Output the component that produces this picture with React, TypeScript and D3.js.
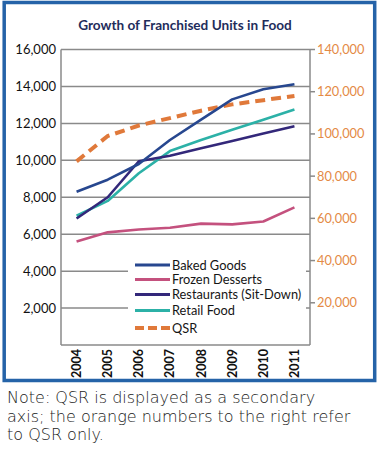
import React from "react";
import * as d3 from "d3";

const years = ["2004", "2005", "2006", "2007", "2008", "2009", "2010", "2011"];
const bakedGoods = [8300, 8950, 9800, 11100, 12200, 13300, 13850, 14120];
const frozenDesserts = [5600, 6100, 6250, 6350, 6570, 6530, 6690, 7450];
const restaurants = [6850, 8000, 9950, 10250, 10650, 11050, 11450, 11850];
const retailFood = [7000, 7800, 9300, 10500, 11100, 11650, 12200, 12750];
const qsr = [87000, 99000, 104000, 107500, 111000, 114000, 116000, 118000];
const leftTicks = [2000, 4000, 6000, 8000, 10000, 12000, 14000, 16000];
const rightTicks = [20000, 40000, 60000, 80000, 100000, 120000, 140000];

const W = 379;
const H = 452;
const L = 61;
const R = 310;
const T = 49.5;
const B = 345;

const colors = {
  baked: "#27478f",
  frozen: "#c4517e",
  rest: "#33287a",
  retail: "#2cb1a7",
  qsr: "#e0793a",
};

export default function App() {
  const x = d3.scalePoint<string>().domain(years).range([L, R]).padding(0.5);
  const yL = d3.scaleLinear().domain([0, 16000]).range([B, T]);
  const yR = d3.scaleLinear().domain([0, 140000]).range([B, T]);
  const lineL = d3
    .line<number>()
    .x((_, i) => x(years[i]) as number)
    .y((d) => yL(d));
  const lineR = d3
    .line<number>()
    .x((_, i) => x(years[i]) as number)
    .y((d) => yR(d));

  const series = [
    { data: retailFood, color: colors.retail },
    { data: frozenDesserts, color: colors.frozen },
    { data: restaurants, color: colors.rest },
    { data: bakedGoods, color: colors.baked },
  ];

  const legend = [
    { name: "Baked Goods", color: colors.baked, dash: false, y: 265 },
    { name: "Frozen Desserts", color: colors.frozen, dash: false, y: 279.5 },
    { name: "Restaurants (Sit-Down)", color: colors.rest, dash: false, y: 294.5 },
    { name: "Retail Food", color: colors.retail, dash: false, y: 310.5 },
    { name: "QSR", color: colors.qsr, dash: true, y: 328 },
  ];

  const font = "Lato, 'Liberation Sans', sans-serif";

  return (
    <svg
      width={W}
      height={H}
      style={{ position: "absolute", left: 0, top: 0, background: "#fff" }}
      fontFamily={font}
    >
      <rect x={0} y={0} width={W} height={H} fill="#fff" />
      <rect x={4.2} y={2.5} width={370.5} height={378} fill="#fff" stroke="#2563a8" strokeWidth={3.5} />
      <text x={185} y={30} textAnchor="middle" fontSize={13.6} fontWeight="bold" fill="#1f2d5c">
        Growth of Franchised Units in Food
      </text>

      {/* gridlines */}
      {leftTicks.map((t) => (
        <line key={t} x1={L} x2={R} y1={yL(t)} y2={yL(t)} stroke="#8a8a8a" strokeWidth={1.5} />
      ))}
      <line x1={L} x2={L} y1={T} y2={B} stroke="#8a8a8a" strokeWidth={1.5} />
      <line x1={R} x2={R} y1={T} y2={B} stroke="#8a8a8a" strokeWidth={1.5} />
      <line x1={L} x2={R} y1={B} y2={B} stroke="#8a8a8a" strokeWidth={1.5} />

      {/* left labels */}
      {leftTicks.map((t) => (
        <text key={t} x={56} y={yL(t) + 4.5} textAnchor="end" fontSize={13} fill="#111">
          {d3.format(",")(t)}
        </text>
      ))}
      {/* right ticks */}
      {rightTicks.map((t) => (
        <g key={t}>
          <line x1={R} x2={R + 5} y1={yR(t)} y2={yR(t)} stroke="#8a8a8a" strokeWidth={1.5} />
          <text x={317} y={yR(t) + 4.5} fontSize={12.8} fill="#e48a45">
            {d3.format(",")(t)}
          </text>
        </g>
      ))}
      {/* x labels */}
      {years.map((yr) => (
        <text
          key={yr}
          transform={`translate(${(x(yr) as number) + 4.5},349) rotate(-90)`}
          textAnchor="end"
          fontSize={12.5}
          fontWeight="bold"
          fill="#111"
        >
          {yr}
        </text>
      ))}

      {/* legend box */}
      <rect x={128} y={257} width={178} height={80} fill="#fff" />

      {/* series */}
      <path d={lineR(qsr) || ""} fill="none" stroke={colors.qsr} strokeWidth={4} strokeDasharray="10,6" />
      {series.map((s, i) => (
        <path key={i} d={lineL(s.data) || ""} fill="none" stroke={s.color} strokeWidth={2.6} strokeLinejoin="round" />
      ))}

      {/* legend */}
      {legend.map((l) => (
        <g key={l.name}>
          <line
            x1={135}
            x2={170}
            y1={l.y}
            y2={l.y}
            stroke={l.color}
            strokeWidth={l.dash ? 4 : 3}
            strokeDasharray={l.dash ? "9,4" : undefined}
          />
          <text x={172} y={l.y + 4.5} fontSize={12.8} fill="#151515">
            {l.name}
          </text>
        </g>
      ))}

      {/* note */}
      <g fontSize={16} fill="#222" fontFamily="'DejaVu Sans', sans-serif" fontWeight={300}>
        <text x={7} y={403}>Note: QSR is displayed as a secondary</text>
        <text x={7} y={421.5}>axis; the orange numbers to the right refer</text>
        <text x={7} y={440}>to QSR only.</text>
      </g>
    </svg>
  );
}
